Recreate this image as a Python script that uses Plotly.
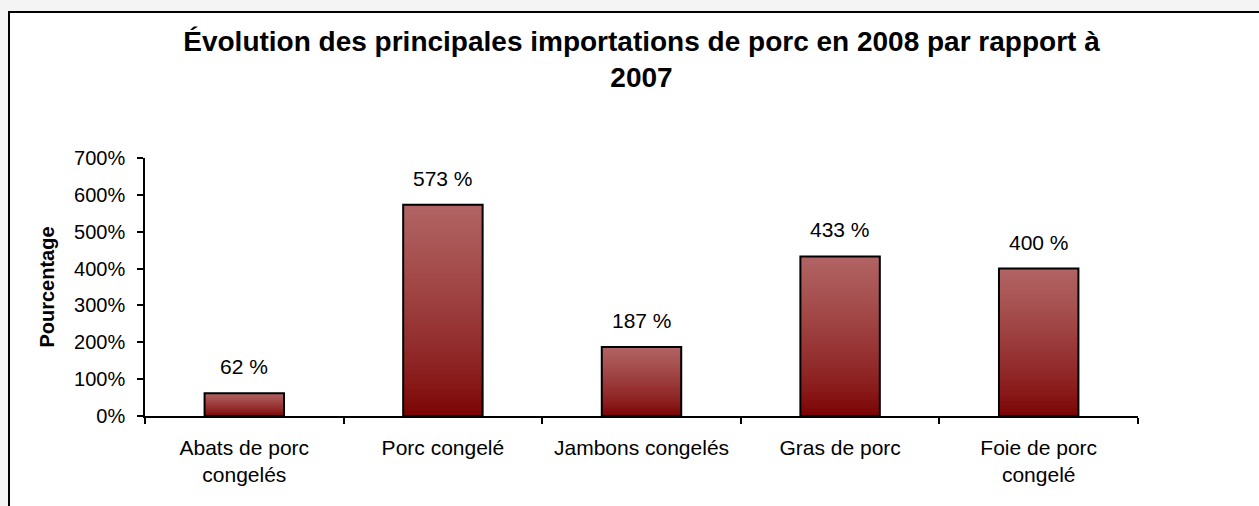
import plotly.graph_objects as go

categories = ["Abats de porc<br>congelés", "Porc congelé", "Jambons congelés", "Gras de porc", "Foie de porc<br>congelé"]
values = [62, 573, 187, 433, 400]
labels = ["62 %", "573 %", "187 %", "433 %", "400 %"]
y_ticks = [0, 100, 200, 300, 400, 500, 600, 700]

N_SEG = 40
LIGHT = (178, 100, 100)
DARK = (122, 0, 0)

def seg_color(t):
    m = t ** 0.75
    r, g, b = (round(DARK[i] + (LIGHT[i] - DARK[i]) * m) for i in range(3))
    return f"rgb({r},{g},{b})"

FONT = "Arial, Liberation Sans, sans-serif"
BAR_W = 0.4

fig = go.Figure()
# gradient fill: each layer covers from its base up to the bar top, later layers drawn above
for k in range(N_SEG):
    t = (k + 0.5) / N_SEG
    fig.add_trace(go.Bar(
        x=categories,
        y=[v * (N_SEG - k) / N_SEG for v in values],
        base=[v * k / N_SEG for v in values],
        width=BAR_W,
        marker=dict(color=seg_color(t), line=dict(width=0)),
        hoverinfo="skip",
        showlegend=False,
    ))

fig.add_trace(go.Bar(
    x=categories,
    y=values,
    width=BAR_W,
    marker=dict(color="rgba(0,0,0,0)", line=dict(color="black", width=2)),
    showlegend=False,
))

for c, v, lab in zip(categories, values, labels):
    fig.add_annotation(x=c, y=v, text=lab, showarrow=False, yanchor="bottom",
                       yshift=13, font=dict(family=FONT, size=21, color="black"))

fig.update_layout(
    width=1259, height=506,
    margin=dict(l=145, r=121, t=158, b=90, autoexpand=False),
    barmode="overlay",
    paper_bgcolor="#f4f4f4",
    plot_bgcolor="white",
    font=dict(family=FONT, color="black"),
    title=dict(
        text="Évolution des principales importations de porc en 2008 par rapport à<br>2007",
        font=dict(family=FONT, size=28, color="black", weight="bold"),
        x=0.5, xref="paper", xanchor="center",
        y=1 - 51 / 506, yref="container", yanchor="top",
    ),
    shapes=[dict(type="rect", xref="paper", yref="paper",
                 x0=(9 - 145) / 993, x1=1.3, y0=-0.6, y1=(416 - 12) / 258,
                 line=dict(color="black", width=2), fillcolor="white", layer="below")],
)

fig.update_xaxes(
    type="category",
    tickson="boundaries",
    ticks="outside", ticklen=6, tickwidth=1.5, tickcolor="black",
    showline=True, linecolor="black", linewidth=1.5,
    showgrid=False,
    tickfont=dict(family=FONT, size=21, color="black"),
    ticklabelstandoff=12,
)
fig.update_yaxes(
    range=[0, 700],
    tickvals=y_ticks,
    ticktext=[f"{v}%" for v in y_ticks],
    ticks="outside", ticklen=6, tickwidth=1.5, tickcolor="black",
    showline=True, linecolor="black", linewidth=1.5,
    showgrid=False, zeroline=False,
    tickfont=dict(family=FONT, size=20, color="black"),
    ticklabelstandoff=8,
    title=dict(text="<b>Pourcentage</b>", font=dict(family=FONT, size=20, color="black"), standoff=14),
)

fig.write_html(
    "out.html",
    config={"displayModeBar": False},
    post_script="document.body.style.margin='0';document.body.style.background='#f4f4f4';",
)
